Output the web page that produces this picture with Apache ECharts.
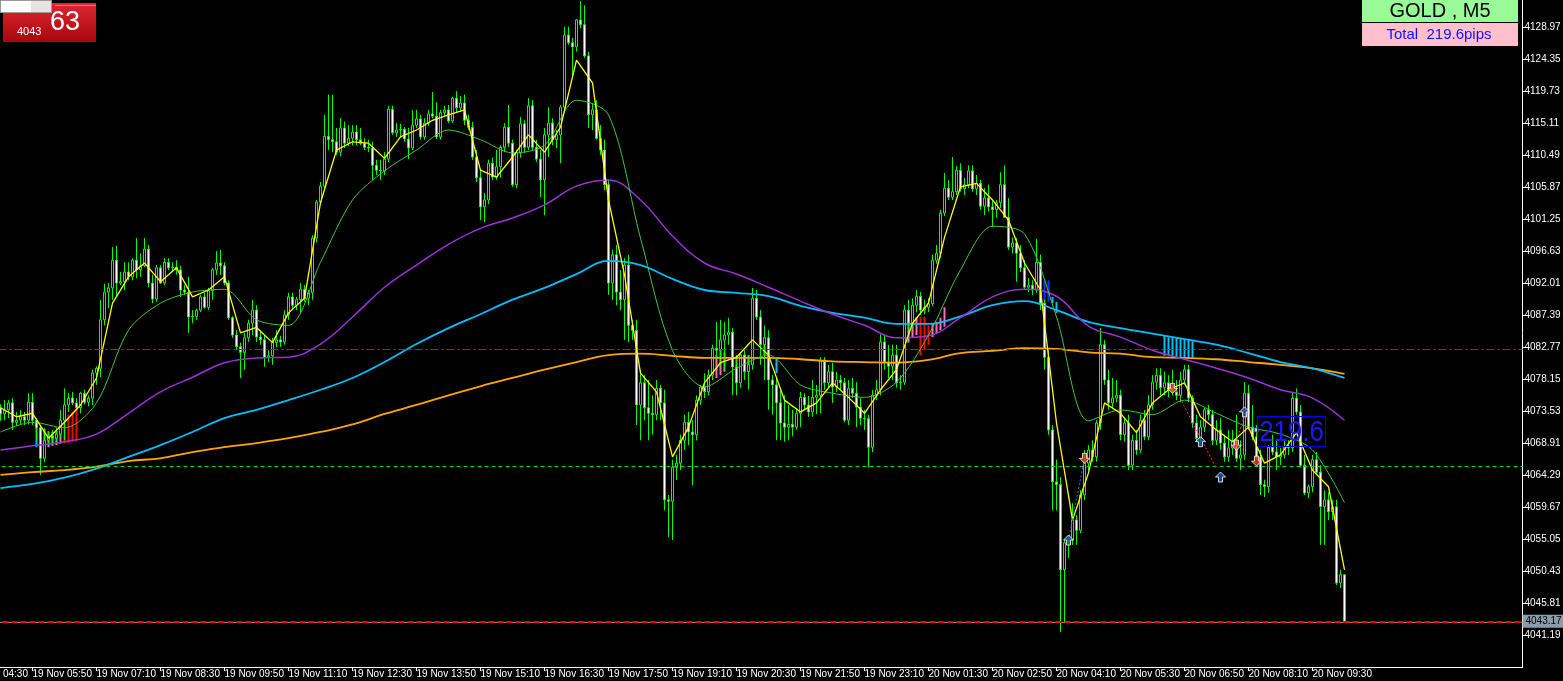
<!DOCTYPE html>
<html><head><meta charset="utf-8">
<script src="https://cdn.jsdelivr.net/npm/echarts@6/dist/echarts.min.js"></script>
<style>html,body{margin:0;padding:0;background:#000;overflow:hidden}#c{width:1563px;height:681px}</style>
</head><body><div id="c"></div>
<script>
// ---------- data ----------
const firstBar = 8;          // category index of the first drawn bar
const slotCount = 389;       // time slots on the axis (incl. empty right margin)
const xTickLabels = ['19 Nov 04:30','19 Nov 05:50','19 Nov 07:10','19 Nov 08:30','19 Nov 09:50','19 Nov 11:10','19 Nov 12:30','19 Nov 13:50','19 Nov 15:10','19 Nov 16:30','19 Nov 17:50','19 Nov 19:10','19 Nov 20:30','19 Nov 21:50','19 Nov 23:10','20 Nov 01:30','20 Nov 02:50','20 Nov 04:10','20 Nov 05:30','20 Nov 06:50','20 Nov 08:10','20 Nov 09:30'];
const yTickValues = [4128.97,4124.35,4119.73,4115.11,4110.49,4105.87,4101.25,4096.63,4092.01,4087.39,4082.77,4078.15,4073.53,4068.91,4064.29,4059.67,4055.05,4050.43,4045.81,4041.19];
const yMin = 4036.57, yMax = 4132.87;

const open = [4074.0,4073.1,4073.7,4074.7,4071.9,4072.2,4072.7,4072.2,4074.8,4072.2,4071.1,4066.7,4069.3,4069.9,4069.6,4070.2,4072.2,4074.4,4075.4,4074.7,
4074.0,4076.1,4074.8,4075.4,4079.0,4079.7,4086.7,4090.7,4091.3,4095.3,4092.0,4092.2,4093.6,4092.9,4095.3,4093.9,4094.5,4096.9,4092.0,4089.7,
4094.2,4092.0,4095.0,4094.2,4094.3,4093.9,4091.0,4090.7,4087.1,4087.2,4088.1,4090.0,4088.5,4090.9,4093.9,4094.9,4094.5,4092.0,4087.0,4084.5,
4082.8,4082.0,4084.1,4086.2,4088.1,4084.2,4083.8,4081.3,4081.5,4083.4,4083.8,4083.5,4087.4,4090.0,4088.8,4089.6,4091.1,4089.8,4090.6,4098.5,
4103.7,4106.0,4113.2,4112.7,4112.4,4110.9,4114.4,4112.2,4112.9,4113.8,4112.7,4112.2,4111.6,4111.5,4109.0,4108.3,4108.2,4109.9,4117.1,4113.7,
4114.1,4114.2,4112.8,4111.5,4114.8,4115.7,4113.1,4115.1,4116.4,4116.1,4113.1,4116.6,4117.0,4115.4,4118.7,4117.3,4118.0,4115.5,4114.5,4110.2,
4107.2,4103.0,4104.0,4109.3,4107.3,4108.8,4111.6,4114.5,4112.2,4106.2,4110.8,4115.0,4111.6,4117.6,4111.6,4109.9,4106.9,4113.4,4115.1,4112.7,
4113.4,4117.4,4127.8,4126.7,4126.1,4130.0,4129.3,4124.8,4116.3,4117.0,4112.9,4111.2,4106.2,4092.0,4096.1,4090.7,4089.6,4094.6,4085.9,4085.2,
4074.4,4077.6,4074.0,4073.2,4073.0,4076.8,4074.7,4060.7,4060.5,4065.4,4066.0,4069.3,4071.9,4070.5,4070.1,4075.1,4077.0,4076.3,4078.7,4082.6,
4082.3,4083.8,4084.5,4084.9,4079.9,4077.6,4081.6,4079.2,4080.2,4089.8,4087.1,4083.1,4084.1,4078.0,4077.3,4074.7,4071.8,4071.2,4071.6,4071.2,
4073.2,4075.5,4074.4,4073.4,4075.5,4075.8,4080.9,4077.6,4079.2,4077.0,4078.0,4077.6,4072.2,4076.8,4076.1,4074.1,4072.5,4072.4,4068.3,4075.8,
4076.6,4083.5,4080.6,4080.0,4081.6,4077.6,4077.7,4088.1,4086.2,4088.8,4090.1,4088.1,4088.5,4089.0,4095.3,4096.3,4102.1,4105.7,4104.4,4105.2,
4108.3,4105.6,4106.2,4108.2,4105.6,4106.4,4103.1,4104.3,4103.0,4102.6,4103.6,4106.2,4101.5,4097.2,4097.8,4096.3,4094.2,4091.4,4091.7,4091.0,
4095.0,4089.1,4081.3,4070.8,4063.3,4062.9,4050.6,4054.5,4054.9,4057.8,4056.3,4061.4,4066.0,4067.9,4066.9,4071.8,4083.1,4078.0,4074.7,4075.4,
4075.8,4070.1,4071.8,4065.7,4069.3,4067.9,4072.2,4069.8,4074.4,4077.7,4078.7,4076.9,4077.6,4076.6,4076.3,4075.8,4078.0,4079.5,4075.4,4071.8,
4069.6,4071.2,4073.7,4073.0,4069.3,4070.8,4068.9,4066.9,4068.2,4069.1,4066.7,4067.2,4076.1,4071.2,4069.8,4066.9,4062.9,4062.6,4068.3,4067.6,
4066.9,4067.2,4068.3,4068.2,4075.4,4073.4,4065.7,4061.7,4062.6,4066.5,4064.7,4059.7,4060.7,4059.0,4059.7,4048.7,4049.9];

const high = [4074.5,4075.1,4075.1,4075.4,4073.4,4073.7,4073.4,4076.1,4076.1,4072.5,4071.5,4071.1,4070.5,4070.8,4071.1,4073.7,4076.8,4076.1,4076.3,4075.4,
4076.3,4076.6,4075.8,4079.5,4080.0,4089.6,4091.9,4092.0,4097.2,4097.4,4093.6,4095.0,4095.0,4095.6,4098.5,4096.3,4098.5,4097.5,4093.2,4094.6,
4094.6,4095.6,4095.6,4095.0,4095.3,4094.5,4091.7,4092.9,4088.1,4088.3,4090.3,4090.6,4091.3,4094.2,4096.6,4096.8,4095.0,4092.4,4087.2,4085.2,
4083.4,4084.8,4086.7,4089.6,4088.8,4085.2,4084.5,4082.3,4084.1,4085.2,4084.4,4088.1,4090.6,4090.6,4090.0,4092.0,4091.7,4091.0,4098.9,4104.0,
4106.6,4116.3,4119.2,4119.2,4114.4,4115.8,4115.3,4114.8,4114.8,4114.8,4114.4,4112.9,4112.7,4112.4,4109.8,4109.8,4110.9,4117.6,4117.6,4115.1,
4115.0,4114.5,4114.4,4117.0,4117.0,4116.3,4115.8,4117.0,4119.6,4118.1,4117.0,4117.6,4117.7,4118.9,4119.7,4119.0,4119.2,4116.3,4115.3,4111.2,
4108.3,4105.0,4109.8,4110.1,4111.2,4111.9,4115.1,4117.7,4112.7,4111.2,4116.0,4115.5,4118.7,4118.4,4112.7,4111.2,4114.4,4117.4,4115.8,4114.1,
4117.7,4129.0,4129.0,4127.4,4130.1,4132.7,4132.1,4125.4,4118.0,4118.4,4114.8,4112.7,4106.9,4096.8,4097.5,4093.9,4095.6,4096.1,4086.7,4086.7,
4079.5,4078.7,4078.0,4075.8,4078.0,4077.3,4076.6,4061.4,4066.5,4067.2,4070.1,4073.0,4073.4,4072.2,4075.8,4077.3,4079.0,4079.5,4083.1,4086.4,
4086.7,4086.4,4087.0,4085.5,4081.6,4082.0,4082.3,4081.6,4091.3,4091.0,4088.1,4085.9,4085.2,4078.7,4078.3,4076.6,4075.8,4074.4,4073.7,4074.0,
4076.3,4076.1,4075.7,4078.0,4077.3,4081.3,4081.3,4080.2,4080.5,4079.2,4078.7,4078.3,4078.0,4078.3,4077.7,4075.4,4073.7,4073.0,4076.6,4078.0,
4084.6,4084.6,4083.1,4083.1,4083.1,4078.7,4088.8,4089.6,4089.8,4091.0,4090.7,4089.6,4089.8,4096.1,4097.5,4102.6,4107.9,4106.9,4110.2,4108.9,
4109.3,4107.2,4109.0,4109.0,4107.6,4106.9,4105.7,4106.2,4104.0,4104.0,4108.0,4109.0,4104.3,4098.6,4098.5,4097.5,4095.3,4092.7,4092.4,4098.4,
4096.1,4089.6,4082.3,4071.5,4066.5,4064.0,4054.9,4055.6,4060.2,4058.5,4062.1,4067.9,4068.6,4069.3,4072.2,4085.5,4083.8,4079.5,4078.3,4078.0,
4076.6,4072.5,4073.0,4070.1,4070.8,4073.0,4073.7,4075.8,4078.7,4079.7,4079.7,4079.2,4078.7,4079.5,4078.0,4079.2,4080.2,4080.2,4075.8,4073.0,
4072.2,4074.0,4074.4,4073.7,4072.2,4072.5,4070.1,4070.8,4070.8,4073.0,4069.3,4077.7,4077.3,4074.4,4071.5,4067.9,4063.6,4068.6,4070.1,4069.3,
4068.2,4069.3,4069.3,4076.3,4076.8,4074.4,4067.2,4062.9,4067.2,4067.6,4065.7,4062.1,4061.8,4060.7,4060.7,4050.6,4049.9];

const low = [4072.1,4072.2,4072.5,4070.8,4071.4,4071.6,4071.5,4071.6,4071.5,4069.3,4064.3,4066.2,4068.6,4069.1,4069.1,4069.8,4069.3,4073.4,4074.4,4073.7,
4073.2,4074.5,4074.2,4074.4,4077.3,4078.4,4085.9,4088.4,4089.6,4090.0,4091.7,4091.0,4092.4,4092.4,4092.7,4092.9,4094.3,4091.4,4089.1,4089.3,
4091.9,4091.7,4093.9,4093.6,4093.2,4090.0,4090.3,4084.8,4086.2,4086.7,4087.8,4088.3,4088.1,4089.6,4093.2,4093.2,4091.7,4086.7,4084.1,4082.3,
4078.3,4079.5,4083.5,4084.5,4083.5,4083.1,4079.9,4080.6,4080.2,4082.8,4082.8,4083.1,4086.7,4088.1,4088.1,4087.7,4089.3,4088.8,4089.6,4097.9,
4103.3,4105.4,4111.2,4110.9,4110.5,4110.3,4111.5,4111.8,4111.9,4111.9,4111.9,4111.2,4110.9,4106.9,4107.6,4106.9,4107.6,4109.5,4113.4,4113.1,
4113.1,4112.4,4109.9,4111.2,4114.4,4112.7,4112.7,4114.7,4115.8,4112.8,4112.7,4116.1,4115.1,4115.1,4116.6,4116.7,4114.8,4114.1,4109.8,4106.6,
4101.1,4100.8,4103.4,4106.9,4106.9,4107.2,4110.9,4111.6,4105.9,4105.7,4110.1,4110.8,4111.2,4111.2,4109.5,4104.4,4101.8,4110.2,4111.9,4111.5,
4109.3,4117.0,4126.4,4121.7,4125.4,4128.8,4124.5,4114.4,4114.1,4112.7,4110.5,4105.4,4090.3,4089.6,4088.8,4088.1,4083.8,4083.5,4083.8,4071.5,
4069.3,4072.2,4069.3,4070.1,4072.2,4072.2,4059.2,4055.3,4054.9,4063.6,4065.0,4067.9,4068.6,4062.8,4069.3,4074.4,4075.4,4075.8,4078.0,4080.9,
4080.2,4079.5,4083.1,4075.8,4075.8,4076.9,4078.0,4076.6,4079.5,4086.7,4080.2,4078.0,4073.7,4073.0,4069.3,4069.3,4069.1,4069.3,4069.9,4070.8,
4071.2,4073.7,4072.7,4072.7,4073.1,4073.2,4076.6,4077.0,4074.7,4076.3,4076.6,4071.9,4071.5,4075.4,4071.2,4071.5,4070.8,4065.4,4067.6,4075.1,
4075.8,4079.5,4078.3,4078.0,4076.9,4076.6,4077.3,4085.2,4085.5,4087.8,4087.4,4087.5,4087.8,4088.7,4094.8,4095.6,4101.7,4104.0,4104.0,4104.7,
4105.2,4104.7,4105.7,4105.2,4104.7,4102.6,4101.8,4102.3,4100.1,4101.4,4102.8,4101.4,4096.8,4096.3,4092.2,4093.6,4091.0,4090.7,4090.3,4090.6,
4088.1,4079.5,4070.1,4059.2,4059.2,4041.6,4042.9,4052.3,4054.2,4054.2,4055.9,4060.7,4065.0,4066.2,4066.2,4070.8,4077.3,4073.7,4074.0,4074.8,
4069.3,4069.1,4065.0,4065.0,4067.2,4067.5,4069.3,4069.3,4073.7,4076.6,4075.8,4075.8,4075.5,4075.8,4075.1,4074.8,4077.3,4074.8,4071.1,4069.1,
4069.1,4070.5,4072.2,4068.6,4068.6,4067.9,4066.2,4066.2,4067.2,4066.2,4065.0,4066.5,4070.8,4069.3,4066.5,4061.4,4061.1,4061.7,4067.2,4065.0,
4065.7,4066.7,4067.2,4067.6,4073.0,4065.4,4061.4,4061.0,4061.8,4064.3,4054.2,4054.2,4057.8,4057.8,4048.4,4048.0,4043.2];

const close = [4073.1,4073.7,4074.7,4071.9,4072.2,4072.7,4072.2,4074.8,4072.2,4071.1,4066.7,4069.3,4069.9,4069.6,4070.2,4072.2,4074.4,4075.4,4074.7,4074.0,
4076.1,4074.8,4075.4,4079.0,4079.7,4086.7,4090.7,4091.3,4095.3,4092.0,4092.2,4093.6,4092.9,4095.3,4093.9,4094.5,4096.9,4092.0,4089.7,4094.2,
4092.0,4095.0,4094.2,4094.3,4093.9,4091.0,4090.7,4087.1,4087.2,4088.1,4090.0,4088.5,4090.9,4093.9,4094.9,4094.5,4092.0,4087.0,4084.5,4082.8,
4082.0,4084.1,4086.2,4088.1,4084.2,4083.8,4081.3,4081.5,4083.4,4083.8,4083.5,4087.4,4090.0,4088.8,4089.6,4091.1,4089.8,4090.6,4098.5,4103.7,
4106.0,4113.2,4112.7,4112.4,4110.9,4114.4,4112.2,4112.9,4113.8,4112.7,4112.2,4111.6,4111.5,4109.0,4108.3,4108.2,4109.9,4117.1,4113.7,4114.1,
4114.2,4112.8,4111.5,4114.8,4115.7,4113.1,4115.1,4116.4,4116.1,4113.1,4116.6,4117.0,4115.4,4118.7,4117.3,4118.0,4115.5,4114.5,4110.2,4107.2,
4103.0,4104.0,4109.3,4107.3,4108.8,4111.6,4114.5,4112.2,4106.2,4110.8,4115.0,4111.6,4117.6,4111.6,4109.9,4106.9,4113.4,4115.1,4112.7,4113.4,
4117.4,4127.8,4126.7,4126.1,4130.0,4129.3,4124.8,4116.3,4117.0,4112.9,4111.2,4106.2,4092.0,4096.1,4090.7,4089.6,4094.6,4085.9,4085.2,4074.4,
4077.6,4074.0,4073.2,4073.0,4076.8,4074.7,4060.7,4060.5,4065.4,4066.0,4069.3,4071.9,4070.5,4070.1,4075.1,4077.0,4076.3,4078.7,4082.6,4082.3,
4083.8,4084.5,4084.9,4079.9,4077.6,4081.6,4079.2,4080.2,4089.8,4087.1,4083.1,4084.1,4078.0,4077.3,4074.7,4071.8,4071.2,4071.6,4071.2,4073.2,
4075.5,4074.4,4073.4,4075.5,4075.8,4080.9,4077.6,4079.2,4077.0,4078.0,4077.6,4072.2,4076.8,4076.1,4074.1,4072.5,4072.4,4068.3,4075.8,4076.6,
4083.5,4080.6,4080.0,4081.6,4077.6,4077.7,4088.1,4086.2,4088.8,4090.1,4088.1,4088.5,4089.0,4095.3,4096.3,4102.1,4105.7,4104.4,4105.2,4108.3,
4105.6,4106.2,4108.2,4105.6,4106.4,4103.1,4104.3,4103.0,4102.6,4103.6,4106.2,4101.5,4097.2,4097.8,4096.3,4094.2,4091.4,4091.7,4091.0,4095.0,
4089.1,4081.3,4070.8,4063.3,4062.9,4050.6,4054.5,4054.9,4057.8,4056.3,4061.4,4066.0,4067.9,4066.9,4071.8,4083.1,4078.0,4074.7,4075.4,4075.8,
4070.1,4071.8,4065.7,4069.3,4067.9,4072.2,4069.8,4074.4,4077.7,4078.7,4076.9,4077.6,4076.6,4076.3,4075.8,4078.0,4079.5,4075.4,4071.8,4069.6,
4071.2,4073.7,4073.0,4069.3,4070.8,4068.9,4066.9,4068.2,4069.1,4066.7,4067.2,4076.1,4071.2,4069.8,4066.9,4062.9,4062.6,4068.3,4067.6,4066.9,
4067.2,4068.3,4068.2,4075.4,4073.4,4065.7,4061.7,4062.6,4066.5,4064.7,4059.7,4060.7,4059.0,4059.7,4048.7,4049.9,4043.17];

// moving averages (yellow every 4 bars, others every 8 bars, from firstBar)
const maYellow = [4074.0,4072.7,4073.2,4069.6,4071.9,4074.4,4078.3,4089.1,4092.9,4094.9,4092.2,4094.2,4090.0,4091.0,4092.9,4084.8,4085.6,4083.4,4087.7,4089.8,4103.6,4111.2,4112.4,4112.2,4110.0,4113.1,4114.1,4115.5,4116.3,4117.0,4108.3,4107.3,4110.2,4113.4,4110.9,4114.5,4124.2,4120.9,4104.0,4093.2,4079.0,4076.3,4066.9,4071.2,4077.6,4080.5,4081.3,4083.8,4081.6,4075.1,4073.4,4074.7,4077.6,4075.5,4073.2,4076.6,4079.5,4086.2,4089.1,4098.6,4105.9,4106.4,4104.0,4101.1,4094.9,4091.0,4071.8,4057.8,4064.6,4074.7,4073.2,4070.4,4074.7,4076.6,4077.6,4072.7,4070.8,4069.1,4071.2,4066.0,4067.2,4070.4,4065.0,4062.6,4050.6];
const maGreen = [4070.5,4071.9,4071.1,4074.7,4085.2,4089.1,4090.7,4091.1,4086.7,4085.9,4095.0,4104.0,4108.2,4111.2,4114.1,4112.7,4110.8,4111.9,4118.4,4116.3,4098.5,4082.3,4077.0,4079.7,4081.6,4077.3,4076.1,4075.5,4077.7,4084.5,4093.9,4100.2,4099.1,4087.1,4072.1,4073.7,4073.0,4075.1,4073.2,4071.2,4070.2,4067.9,4060.3];
const maPurple = [4067.9,4068.5,4069.1,4070.2,4073.2,4076.3,4078.4,4080.5,4081.2,4081.3,4083.2,4087.1,4091.4,4094.6,4097.6,4099.9,4101.4,4103.3,4106.0,4106.9,4104.0,4098.8,4094.9,4093.3,4091.4,4089.4,4087.5,4085.9,4084.1,4084.4,4087.0,4090.0,4091.1,4090.1,4085.8,4084.2,4082.3,4081.0,4079.7,4078.3,4076.6,4075.4,4072.2];
const maCyan = [4062.4,4063.0,4063.9,4065.2,4066.9,4068.6,4070.5,4072.5,4073.7,4075.1,4076.6,4078.3,4080.6,4083.2,4085.5,4087.5,4089.6,4091.3,4093.3,4095.2,4094.6,4092.6,4091.0,4090.6,4090.1,4088.7,4087.7,4087.0,4086.1,4086.1,4087.2,4088.8,4089.4,4088.1,4086.4,4085.5,4084.7,4083.9,4083.1,4081.9,4080.6,4079.7,4078.3];
const maOrange = [4064.3,4064.7,4065.0,4065.5,4066.3,4066.7,4067.6,4068.3,4068.9,4069.6,4070.5,4071.6,4073.1,4074.4,4075.8,4077.1,4078.3,4079.5,4080.6,4081.6,4081.8,4081.5,4081.2,4081.2,4081.2,4081.0,4080.7,4080.6,4080.5,4080.9,4081.9,4082.2,4082.6,4082.5,4082.0,4081.8,4081.3,4081.2,4081.0,4080.6,4080.2,4079.7,4078.9];

// hatch bars: [bar, top price, bottom price, kind]  kind: 0 cyan, 1 gray, 2 pink, 3 red, 4 blue
const hatch = [[17,4071.2,4068.3,0],[18,4071.1,4068.3,0],[19,4070.9,4068.3,1],[20,4070.6,4068.3,1],[21,4070.5,4068.5,1],[22,4070.6,4068.6,1],[23,4071.2,4068.8,2],[24,4072.2,4068.9,3],[25,4073.0,4068.9,3],[26,4073.4,4069.1,3],[27,4073.8,4069.2,3],
[187,4081.6,4078.3,2],[188,4082.3,4078.7,2],[189,4082.0,4079.2,2],[191,4084.8,4079.9,1],[192,4081.2,4079.7,0],[193,4081.6,4079.7,1],[194,4081.2,4079.9,0],[195,4081.6,4079.9,1],[196,4083.8,4081.2,2],[199,4084.2,4081.6,1],[200,4083.8,4081.3,1],[202,4081.2,4079.0,0],
[235,4088.1,4083.4,1],[236,4086.4,4084.2,2],[237,4087.1,4084.5,2],[238,4087.1,4081.6,3],[239,4087.1,4082.3,3],[240,4085.9,4083.1,3],[241,4086.2,4084.2,2],[242,4086.4,4084.8,2],[243,4087.0,4085.2,2],[244,4088.5,4085.7,2],
[268,4091.0,4089.1,0],[269,4092.4,4089.3,4],[270,4092.4,4089.3,4],[271,4090.0,4089.1,0],[272,4089.3,4087.7,0],
[299,4084.4,4081.5,0],[300,4084.2,4081.5,0],[301,4084.2,4081.3,0],[302,4084.1,4081.3,0],[303,4083.9,4081.3,0],[304,4083.8,4081.2,0],[305,4083.8,4081.2,0],[306,4083.6,4081.2,0]];

const buySignals = [[275,4054.9],[308,4069.1],[313,4064.0],[319,4073.4]];
const sellSignals = [[279,4066.7],[301,4076.8],[317,4068.6],[322,4066.3]];
const exitMarks = [[322,4070.8]];
const buyTrades = [[[275,4054.9],[279,4066.7]]];
const sellTrades = [[[301,4077.5],[312,4065.2]],[[317,4069.3],[319,4072.8]]];

const levelDashDot = 4082.48, levelGreen = 4065.59, bidPrice = 4043.17;
const boxText = '219.6', boxFrom = [322, 4072.8], boxTo = [339, 4068.5];
const symbolName = 'GOLD , M5', totalText = 'Total  219.6pips';
const spreadBig = '63', spreadSmall = '4043';

// ---------- build ----------
const mon = ['Jan','Feb','Mar','Apr','May','Jun','Jul','Aug','Sep','Oct','Nov','Dec'];
const pad = n => (n < 10 ? '0' : '') + n;
const categories = [];
for (let i = 0; i < slotCount; i++) {
  let t = Date.UTC(2025, 10, 19, 4, 30) + i * 300000;
  if (t >= Date.UTC(2025, 10, 20, 0, 0)) t += 3600000; // market break 00:00-01:00
  const d = new Date(t);
  categories.push(d.getUTCDate() + ' ' + mon[d.getUTCMonth()] + ' ' + pad(d.getUTCHours()) + ':' + pad(d.getUTCMinutes()));
}
const candles = [];
for (let i = 0; i < firstBar; i++) candles.push('-');
for (let k = 0; k < open.length; k++) candles.push([open[k], close[k], low[k], high[k]]);
const sampled = (arr, step) => arr.map((v, k) => [firstBar + step * k, v]);

const FONT = '"Liberation Sans", Arial, sans-serif';
const hatchColors = ['#00bfff', '#a8a8a8', '#ff6eb4', '#ff0000', '#1030ff'];
const showTick = idx => idx % 16 === 0 && idx / 16 < xTickLabels.length;

const upArrow = 'path://M5,0L10,5L7,5L7,10L3,10L3,5L0,5Z';
const downArrow = 'path://M3,0L7,0L7,5L10,5L5,10L0,5L3,5Z';

const tradeSeries = [];
buyTrades.forEach(seg => tradeSeries.push({type:'line', data: seg, showSymbol:false, silent:true, z:6,
  lineStyle:{color:'#2a6fe0', width:1, type:[2,2]}}));
sellTrades.forEach(seg => tradeSeries.push({type:'line', data: seg, showSymbol:false, silent:true, z:6,
  lineStyle:{color:'#ff3030', width:1, type:[2,2]}}));

const staticGraphics = [
  {id:'g1', type: 'rect', shape: {x: 3, y: 3, width: 93, height: 39}, z: 100,
    style: {fill: new echarts.graphic.LinearGradient(0, 0, 0, 1, [{offset: 0, color: '#dc2830'}, {offset: 1, color: '#a8060e'}])}},
  {id:'g2', type: 'line', shape: {x1: 55, y1: 5.5, x2: 96, y2: 5.5}, z: 101, style: {stroke: '#f08080', lineWidth: 1}},
  {id:'g3', type: 'rect', shape: {x: 0.5, y: 0.5, width: 51, height: 12}, z: 102, style: {fill: '#ffffff', stroke: '#9a9a9a', lineWidth: 1}},
  {id:'g4', type: 'rect', shape: {x: 31, y: 1, width: 20, height: 11}, z: 103, style: {fill: '#e4e4e4'}},
  {id:'g5', type: 'text', x: 17, y: 26, z: 104, style: {text: spreadSmall, fill: '#fff', font: '11px ' + FONT}},
  {id:'g6', type: 'text', x: 50, y: 9, z: 104, style: {text: spreadBig, fill: '#fff', font: '27px ' + FONT}},
  {id:'g7', type: 'rect', shape: {x: 1362, y: 0, width: 156, height: 22}, z: 100, style: {fill: '#98fb98'}},
  {id:'g8', type: 'text', x: 1440, y: 11.5, z: 101, style: {text: symbolName, fill: '#000', font: '20px ' + FONT, align: 'center', verticalAlign: 'middle'}},
  {id:'g9', type: 'rect', shape: {x: 1362, y: 23, width: 156, height: 23}, z: 100, style: {fill: '#ffc0cb'}},
  {id:'g10', type: 'text', x: 1439, y: 35, z: 101, style: {text: totalText, fill: '#1010ff', font: '15px ' + FONT, align: 'center', verticalAlign: 'middle'}}
];

const chart = echarts.init(document.getElementById('c'), null, {renderer:'canvas', width:1563, height:681});
chart.setOption({
  backgroundColor: '#000',
  animation: false,
  grid: {left: -33.5, right: 40.5, top: 0, bottom: 14, containLabel: false, outerBoundsMode: 'none'},
  xAxis: {
    type: 'category', data: categories, boundaryGap: true,
    axisLine: {show: true, onZero: false, lineStyle: {color: '#fff', width: 1}},
    axisTick: {show: true, alignWithLabel: true, length: 4, interval: showTick, lineStyle: {color: '#fff'}},
    axisLabel: {show: true, interval: showTick, color: '#fff', fontSize: 10, fontFamily: FONT, align: 'left', margin: 2,
      formatter: (v, idx) => xTickLabels[idx / 16]},
    splitLine: {show: false}
  },
  yAxis: {
    type: 'value', position: 'right', min: yMin, max: yMax, scale: true,
    axisLine: {show: true, lineStyle: {color: '#fff', width: 1}},
    axisTick: {show: true, length: 3, customValues: yTickValues, lineStyle: {color: '#fff'}},
    axisLabel: {show: true, customValues: yTickValues, color: '#fff', fontSize: 10, fontFamily: FONT, margin: 2,
      formatter: v => v.toFixed(2)},
    splitLine: {show: false}
  },
  series: [
    {
      type: 'custom', data: hatch, z: 1, silent: true, clip: true,
      encode: {x: 0, y: [1, 2]},
      renderItem: (params, api) => {
        const a = api.coord([api.value(0), api.value(1)]);
        const b = api.coord([api.value(0), api.value(2)]);
        return {type: 'rect', shape: {x: a[0] - 1, y: a[1], width: 2, height: b[1] - a[1]},
          style: {fill: hatchColors[api.value(3)]}};
      }
    },
    {
      type: 'candlestick', data: candles, z: 2, barWidth: 2, silent: true,
      itemStyle: {color: '#000', color0: '#fff', borderColor: '#00ff00', borderColor0: '#00ff00', borderColorDoji: '#00ff00', borderWidth: 1},
      markLine: {
        silent: true, symbol: ['none', 'none'], animation: false,
        data: [
          {yAxis: levelDashDot, lineStyle: {color: '#ff0000', width: 1, type: [8, 3, 2, 3]}, label: {show: false}},
          {yAxis: levelGreen, lineStyle: {color: '#00dd00', width: 1, type: [4, 3]}, label: {show: false}},
          {yAxis: bidPrice - 0.15, lineStyle: {color: '#8a8a8a', width: 1, type: 'solid'}, label: {show: false}},
          {yAxis: bidPrice, lineStyle: {color: '#ff0000', width: 2, type: [6, 3]},
            label: {show: true, position: 'end', distance: 0, formatter: bidPrice.toFixed(2), color: '#000',
              backgroundColor: '#8b9bab', padding: [2, 2, 1, 3], fontSize: 10, fontFamily: FONT}}
        ]
      }
    },
    {type: 'line', data: sampled(maOrange, 8), showSymbol: false, smooth: 0.4, z: 3, silent: true, lineStyle: {color: '#ffa500', width: 1.8}},
    {type: 'line', data: sampled(maCyan, 8), showSymbol: false, smooth: 0.4, z: 3, silent: true, lineStyle: {color: '#00bfff', width: 1.8}},
    {type: 'line', data: sampled(maPurple, 8), showSymbol: false, smooth: 0.4, z: 3, silent: true, lineStyle: {color: '#9a32d8', width: 1.5}},
    {type: 'line', data: sampled(maGreen, 8), showSymbol: false, smooth: 0.3, z: 3, silent: true, lineStyle: {color: '#3cc83c', width: 1}},
    {type: 'line', data: sampled(maYellow, 4), showSymbol: false, smooth: false, z: 4, silent: true, lineStyle: {color: '#ffff00', width: 1.3}},
    ...tradeSeries,
    {type: 'scatter', data: buySignals, symbol: upArrow, symbolSize: 10, z: 7, silent: true,
      itemStyle: {color: '#1f5fa8', borderColor: '#fff', borderWidth: 1}},
    {type: 'scatter', data: sellSignals, symbol: downArrow, symbolSize: 10, z: 7, silent: true,
      itemStyle: {color: '#e8441c', borderColor: '#fff', borderWidth: 1}},
    {type: 'scatter', data: exitMarks, symbol: 'rect', symbolSize: 4, z: 7, silent: true,
      itemStyle: {color: '#fff', borderColor: '#2040c0', borderWidth: 1}}
  ],
  graphic: {elements: staticGraphics}
});

// result box anchored to data coordinates
const p1 = chart.convertToPixel({xAxisIndex: 0, yAxisIndex: 0}, [categories[boxFrom[0]], boxFrom[1]]);
const p2 = chart.convertToPixel({xAxisIndex: 0, yAxisIndex: 0}, [categories[boxTo[0]], boxTo[1]]);
const bx = Math.round(p1[0]) + 0.5, by = Math.round(p1[1]) + 0.5;
const bw = Math.round(p2[0] - p1[0]), bh = Math.round(p2[1] - p1[1]);
chart.setOption({graphic: {elements: staticGraphics.concat([
  {id: 'box', type: 'rect', shape: {x: bx, y: by, width: bw, height: bh}, z: 50,
    style: {fill: 'none', stroke: '#0000ff', lineWidth: 1}},
  {id: 'boxText', type: 'text', x: bx + bw / 2, y: by + bh / 2 + 1, scaleX: 0.86, z: 51,
    style: {text: boxText, fill: '#1a1aff', font: '30px ' + FONT, align: 'center', verticalAlign: 'middle'}}
])}});
</script>
</body></html>
